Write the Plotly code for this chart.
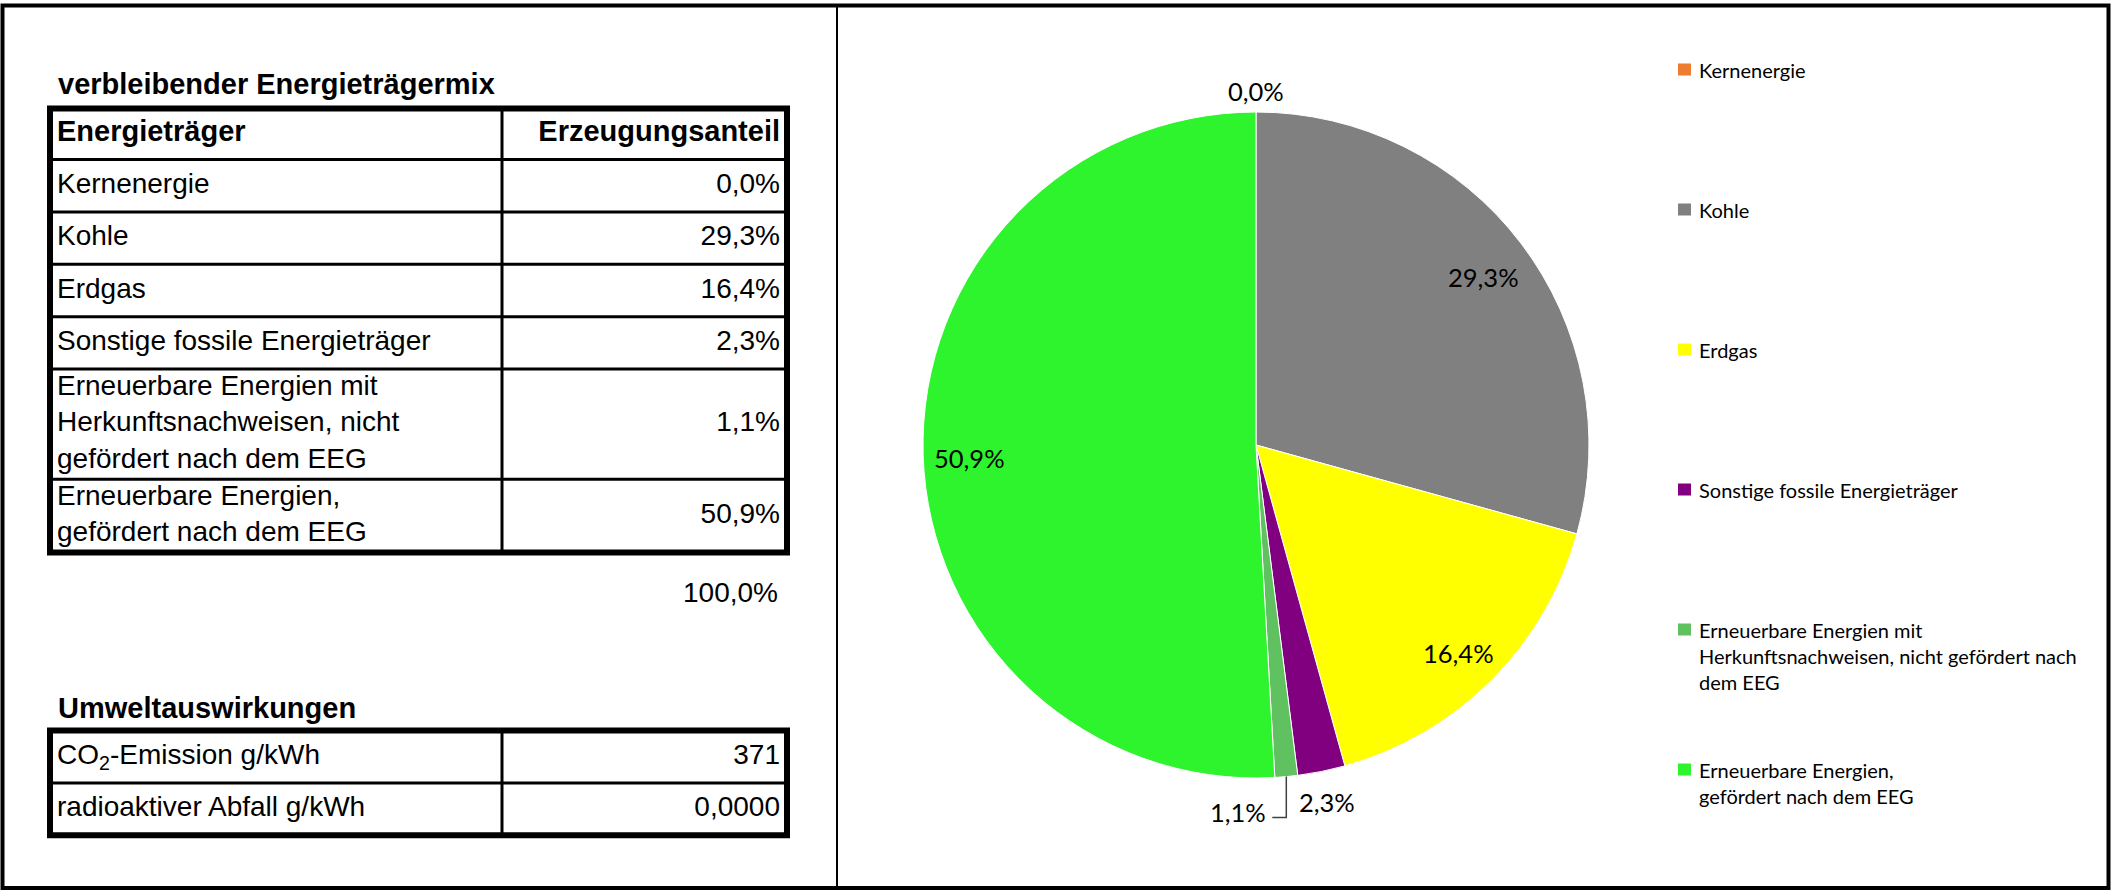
import math
import plotly.graph_objects as go

W, H = 2111, 890

# ---------------- data ----------------
table_labels = [
    "Kernenergie",
    "Kohle",
    "Erdgas",
    "Sonstige fossile Energieträger",
    "Erneuerbare Energien mit<br>Herkunftsnachweisen, nicht<br>gefördert nach dem EEG",
    "Erneuerbare Energien,<br>gefördert nach dem EEG",
]
legend_labels = [
    "Kernenergie",
    "Kohle",
    "Erdgas",
    "Sonstige fossile Energieträger",
    "Erneuerbare Energien mit<br>Herkunftsnachweisen, nicht gefördert nach<br>dem EEG",
    "Erneuerbare Energien,<br>gefördert nach dem EEG",
]
shares = [0.0, 29.3, 16.4, 2.3, 1.1, 50.9]
colors = ["#ED7D31", "#808080", "#FFFF00", "#800080", "#5FC160", "#2EF42E"]

header_labels = ["Energieträger", "Erzeugungsanteil"]
impact_labels = ["CO<sub>2</sub>-Emission g/kWh", "radioaktiver Abfall g/kWh"]
impact_values = [371, 0.0]
impact_decimals = [0, 4]

title_mix = "verbleibender Energieträgermix"
title_impact = "Umweltauswirkungen"


def de(v, d):
    return f"{v:.{d}f}".replace(".", ",")


# ---------------- layout geometry ----------------
TX0, TXC, TX1 = 50, 502, 787
PAD = 7
T1_TOP = 108.5
HEAD_H = 51
T2_TOP = 730.5
CX, CY, R = 1256, 445, 333

TABLE_FONT = "Liberation Sans, Arial, sans-serif"
CHART_FONT = "Lato, Carlito, Calibri, sans-serif"
FS = 28
FS_B = 29


def row_h(n):
    return 52.4 if n == 1 else 36.7 * n


fig = go.Figure()
shapes = []
annotations = []

# ---------------- table 1 ----------------
head_c = T1_TOP + HEAD_H / 2
y = T1_TOP + HEAD_H
bounds = [T1_TOP, y]
centers = []
for lab in table_labels:
    h = row_h(lab.count("<br>") + 1)
    centers.append(y + h / 2)
    y += h
    bounds.append(y)
t1_bottom = y

fig.add_trace(go.Scatter(
    x=[TX0 + PAD, TX1 - PAD], y=[head_c, head_c], mode="text",
    text=[f"<b>{t}</b>" for t in header_labels],
    textposition=["middle right", "middle left"],
    textfont=dict(family=TABLE_FONT, size=FS_B, color="black"),
    hoverinfo="skip", showlegend=False))
fig.add_trace(go.Scatter(
    x=[TX0 + PAD] * len(table_labels), y=centers, mode="text",
    text=table_labels, textposition="middle right",
    textfont=dict(family=TABLE_FONT, size=FS, color="black"),
    hoverinfo="skip", showlegend=False))
fig.add_trace(go.Scatter(
    x=[TX1 - PAD] * len(shares), y=centers, mode="text",
    text=[de(s, 1) + "%" for s in shares], textposition="middle left",
    textfont=dict(family=TABLE_FONT, size=FS, color="black"),
    hoverinfo="skip", showlegend=False))

for b in bounds[1:-1]:
    shapes.append(dict(type="line", xref="x", yref="y", x0=TX0, x1=TX1, y0=b, y1=b,
                       line=dict(color="black", width=3)))
shapes.append(dict(type="line", xref="x", yref="y", x0=TXC, x1=TXC, y0=T1_TOP, y1=t1_bottom,
                   line=dict(color="black", width=3)))
shapes.append(dict(type="rect", xref="x", yref="y", x0=TX0, x1=TX1, y0=T1_TOP, y1=t1_bottom,
                   line=dict(color="black", width=6)))

# total
annotations.append(dict(xref="x", yref="y", x=TX1 - PAD, y=592.5, xanchor="right", yanchor="middle",
                        text=de(sum(shares), 1) + "%", showarrow=False,
                        font=dict(family=TABLE_FONT, size=FS, color="black")))

# titles
annotations.append(dict(xref="x", yref="y", x=TX0 + PAD - 1, y=83.5, xanchor="left", yanchor="middle",
                        text=f"<b>{title_mix}</b>", showarrow=False,
                        font=dict(family=TABLE_FONT, size=FS_B, color="black")))
annotations.append(dict(xref="x", yref="y", x=TX0 + PAD - 1, y=708, xanchor="left", yanchor="middle",
                        text=f"<b>{title_impact}</b>", showarrow=False,
                        font=dict(family=TABLE_FONT, size=FS_B, color="black")))

# ---------------- table 2 ----------------
y = T2_TOP
b2 = [y]
c2 = []
for lab in impact_labels:
    h = row_h(1)
    c2.append(y + h / 2)
    y += h
    b2.append(y)
t2_bottom = y
fig.add_trace(go.Scatter(
    x=[TX0 + PAD] * len(impact_labels), y=c2, mode="text",
    text=impact_labels, textposition="middle right",
    textfont=dict(family=TABLE_FONT, size=FS, color="black"),
    hoverinfo="skip", showlegend=False))
fig.add_trace(go.Scatter(
    x=[TX1 - PAD] * len(impact_values), y=c2, mode="text",
    text=[de(v, d) for v, d in zip(impact_values, impact_decimals)], textposition="middle left",
    textfont=dict(family=TABLE_FONT, size=FS, color="black"),
    hoverinfo="skip", showlegend=False))
for b in b2[1:-1]:
    shapes.append(dict(type="line", xref="x", yref="y", x0=TX0, x1=TX1, y0=b, y1=b,
                       line=dict(color="black", width=3)))
shapes.append(dict(type="line", xref="x", yref="y", x0=TXC, x1=TXC, y0=T2_TOP, y1=t2_bottom,
                   line=dict(color="black", width=3)))
shapes.append(dict(type="rect", xref="x", yref="y", x0=TX0, x1=TX1, y0=T2_TOP, y1=t2_bottom,
                   line=dict(color="black", width=6)))

# ---------------- pie ----------------
fig.add_trace(go.Pie(
    labels=legend_labels, values=shares, sort=False, direction="clockwise", rotation=0,
    marker=dict(colors=colors, line=dict(color="white", width=1)),
    textinfo="none", hoverinfo="skip", showlegend=False,
    domain=dict(x=[(CX - R) / W, (CX + R) / W], y=[1 - (CY + R) / H, 1 - (CY - R) / H]),
))

total = sum(shares)
start = 0.0
for s in shares:
    mid = math.radians((start + s / 2) / total * 360)
    start += s
    txt = de(s, 1) + "%"
    font = dict(family=CHART_FONT, size=25.5, color="black")
    if s >= 10:
        r = 0.86 * R
        annotations.append(dict(xref="x", yref="y", x=CX + r * math.sin(mid), y=CY - r * math.cos(mid) + 5,
                                text=txt, showarrow=False, font=font))
    elif 0 < s < 2:
        px, py = CX + R * math.sin(mid), CY - R * math.cos(mid)
        ey = py + 41
        ex = px - 14
        shapes.append(dict(type="path", xref="x", yref="y",
                           path=f"M{px},{py} L{px},{ey} L{ex},{ey}",
                           line=dict(color="#404040", width=1.5)))
        annotations.append(dict(xref="x", yref="y", x=ex - 4, y=ey - 6, xanchor="right", yanchor="middle",
                                text=txt, showarrow=False, font=font))
    else:
        r = R + 26
        annotations.append(dict(xref="x", yref="y", x=CX + r * math.sin(mid), y=CY - r * math.cos(mid) + 5,
                                text=txt, showarrow=False, font=font))

# ---------------- legend ----------------
LX, LY0, LSTEP = 1678, 69.5, 140
LFS = 20
for i, (lab, col) in enumerate(zip(legend_labels, colors)):
    c = LY0 + i * LSTEP
    n = lab.count("<br>") + 1
    shapes.append(dict(type="rect", xref="x", yref="y", x0=LX, x1=LX + 13, y0=c - 6, y1=c + 6,
                       fillcolor=col, line=dict(width=0)))
    annotations.append(dict(xref="x", yref="y", x=LX + 19, y=c + (n - 1) * LFS * 0.65,
                            xanchor="left", yanchor="middle", align="left",
                            text=lab, showarrow=False,
                            font=dict(family=CHART_FONT, size=LFS, color="black")))

# ---------------- frame ----------------
shapes.append(dict(type="line", xref="x", yref="y", x0=837, x1=837, y0=5.5, y1=888,
                   line=dict(color="black", width=2)))
shapes.append(dict(type="rect", xref="x", yref="y", x0=2.5, x1=2108.5, y0=5.5, y1=888,
                   line=dict(color="black", width=4)))

fig.update_layout(
    width=W, height=H,
    margin=dict(l=0, r=0, t=0, b=0, pad=0),
    paper_bgcolor="white", plot_bgcolor="white",
    xaxis=dict(range=[0, W], visible=False, fixedrange=True, domain=[0, 1]),
    yaxis=dict(range=[H, 0], visible=False, fixedrange=True, domain=[0, 1]),
    shapes=shapes, annotations=annotations,
    showlegend=False,
)

fig.write_html("out.html")
